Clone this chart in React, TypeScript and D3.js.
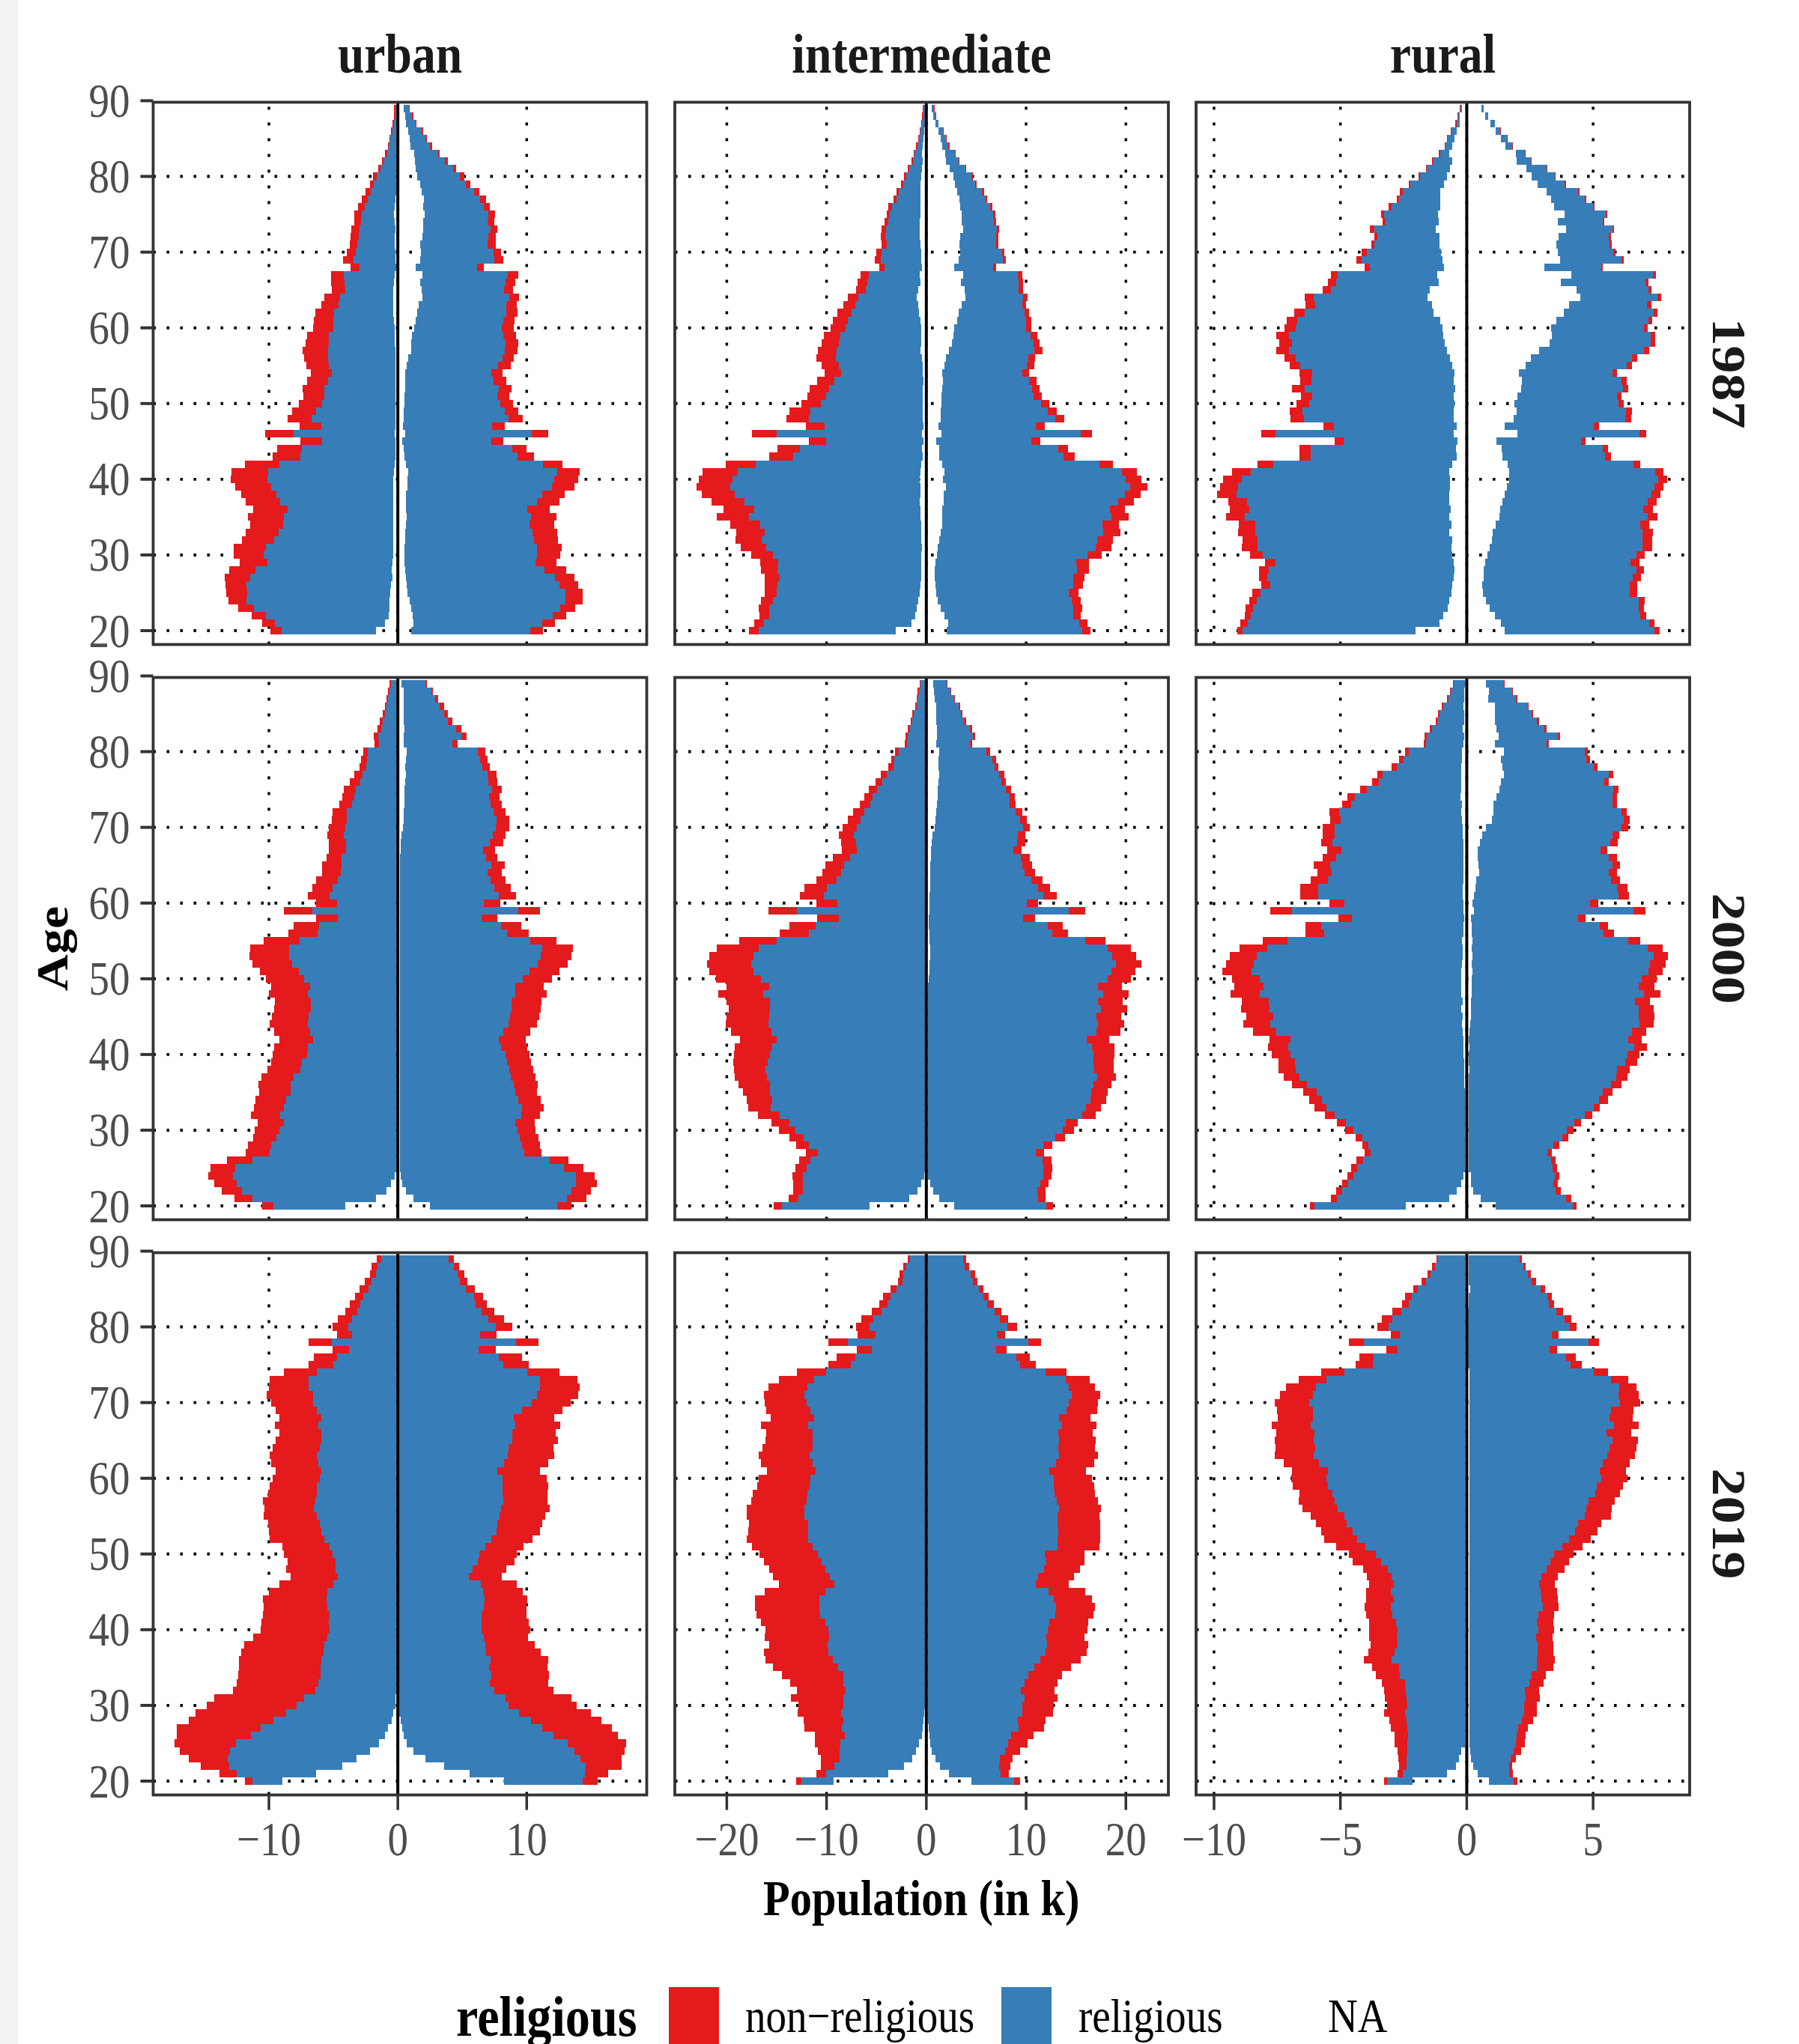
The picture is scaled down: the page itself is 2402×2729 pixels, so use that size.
import React from "react";
import * as d3 from "d3";

// ---------------- DATA (population in thousands) ----------------
// every series is indexed by age, from 89 (index 0) down to 20 (index 69)
const ages = d3.range(89, 19, -1);
const areaTypes = ["urban", "intermediate", "rural"];
const surveyYears = ["1987", "2000", "2019"];
const religionLevels = ["non\u2212religious", "religious", "NA"];
const religionColors = ["#E41A1C", "#377EB8", "none"];
const xTickValues = [[-10, 0, 10], [-20, -10, 0, 10, 20], [-10, -5, 0, 5]];
const xLimits = [[-18.98, 19.31], [-25.21, 24.26], [-10.71, 8.82]];
const yTickValues = [20, 30, 40, 50, 60, 70, 80, 90];
const yLimits = [18.17, 89.8];

// ---- urban 1987 ----
const urban1987_left_na = [
  0.1,0.1,0.1,0.1,0.1,0.1,0.1,0.1,0.1,0.1,
  0.1,0.1,0.18,0.23,0.28,0.23,0.18,0.23,0.23,0.18,
  0.18,0.13,0.23,0.28,0.33,0.38,0.33,0.33,0.28,0.23,
  0.23,0.23,0.18,0.18,0.18,0.18,0.18,0.18,0.18,0.18,
  0.18,0.18,0.18,0.23,0.18,0.18,0.18,0.23,0.28,0.33,
  0.33,0.33,0.33,0.33,0.33,0.33,0.33,0.33,0.33,0.38,
  0.43,0.49,0.43,0.54,0.59,0.64,0.66,0.72,1.0,1.71];
const urban1987_left_rel = [
  0.1,0.1,0.2,0.33,0.49,0.59,0.74,1.0,1.23,1.51,
  1.79,2.0,2.17,2.33,2.51,2.63,2.79,2.79,2.89,3.09,
  3.25,2.84,3.96,3.84,3.76,4.09,4.27,4.6,4.71,4.78,
  5.12,5.12,5.24,5.24,5.17,4.94,5.22,5.5,5.52,5.7,
  6.16,6.5,5.75,7.85,5.68,7.26,7.37,8.95,9.77,9.77,
  9.49,9.08,8.8,8.21,8.52,8.57,8.9,9.26,9.9,10.03,
  9.67,10.56,11.02,11.2,11.1,11.1,10.49,9.51,8.54,7.29];
const urban1987_left_non = [
  0.1,0.1,0.1,0.08,0.08,0.1,0.18,0.15,0.2,0.33,
  0.28,0.38,0.43,0.54,0.59,0.51,0.64,0.64,0.61,0.69,
  0.82,0.69,0.97,1.05,1.02,1.23,1.33,1.46,1.53,1.56,
  1.69,1.82,1.97,1.84,1.74,1.64,1.64,1.71,1.61,1.79,
  1.87,1.87,1.69,2.2,1.69,1.92,2.17,2.69,2.86,2.86,
  2.79,2.74,2.66,2.69,2.79,2.56,2.56,2.51,2.51,2.33,
  2.17,2.02,1.97,1.64,1.61,1.41,1.23,1.1,0.97,0.87];
const urban1987_right_na = [
  0.46,0.59,0.64,0.79,0.9,1.0,1.28,1.3,1.41,1.51,
  1.74,1.87,2.05,1.97,2.1,1.97,1.97,1.92,1.76,1.79,
  1.74,1.38,1.92,1.74,1.87,1.92,1.64,1.53,1.38,1.25,
  1.07,1.02,1.02,0.82,0.69,0.59,0.59,0.56,0.51,0.51,
  0.46,0.46,0.41,0.59,0.36,0.46,0.51,0.64,0.82,0.72,
  0.74,0.64,0.64,0.64,0.69,0.64,0.59,0.59,0.51,0.51,
  0.51,0.56,0.64,0.69,0.77,0.9,1.05,1.15,1.23,1.05];
const urban1987_right_rel = [
  0.38,0.51,0.72,1.07,1.23,1.51,1.84,2.35,2.86,3.3,
  3.53,4.07,4.35,4.68,4.91,4.99,5.24,5.12,5.19,5.63,
  5.75,4.78,6.62,6.6,6.39,6.75,6.78,6.91,6.78,6.83,
  7.14,7.31,7.29,7.29,7.11,6.65,6.85,7.29,7.19,7.42,
  7.85,8.13,6.91,9.82,6.88,8.4,8.8,10.64,11.53,11.43,
  11.23,10.56,10.18,9.41,9.67,9.59,9.87,9.97,10.31,10.31,
  10.18,10.82,11.56,11.87,12.23,12.1,11.56,10.87,9.97,9.23];
const urban1987_right_non = [
  0.08,0.1,0.1,0.08,0.1,0.15,0.15,0.26,0.23,0.33,
  0.36,0.41,0.46,0.49,0.51,0.51,0.51,0.56,0.64,0.61,
  0.69,0.51,0.79,0.77,0.66,0.72,0.82,0.87,0.87,0.9,
  0.95,1.0,0.97,0.87,0.95,0.87,0.95,0.95,0.95,1.02,
  1.02,1.1,0.97,1.25,0.92,1.1,1.23,1.48,1.74,1.84,
  1.71,1.74,1.71,1.71,1.94,1.89,1.89,1.84,1.89,1.76,
  1.61,1.71,1.48,1.43,1.33,1.33,1.18,1.02,0.97,0.97];

// ---- intermediate 1987 ----
const intermediate1987_left_na = [
  0.17,0.17,0.17,0.2,0.3,0.36,0.4,0.36,0.43,0.53,
  0.59,0.59,0.59,0.59,0.59,0.66,0.66,0.66,0.59,0.53,
  0.53,0.43,0.66,0.59,0.83,0.96,0.79,0.73,0.59,0.53,
  0.53,0.53,0.59,0.43,0.36,0.36,0.26,0.36,0.36,0.36,
  0.36,0.36,0.26,0.43,0.26,0.43,0.36,0.53,0.59,0.66,
  0.59,0.59,0.66,0.59,0.59,0.53,0.53,0.53,0.43,0.53,
  0.53,0.53,0.53,0.59,0.66,0.79,0.96,1.09,1.49,3.07];
const intermediate1987_left_rel = [
  0.1,0.13,0.26,0.36,0.43,0.56,0.76,0.99,1.29,1.52,
  1.72,2.15,2.41,2.84,3.1,3.17,3.4,3.43,3.37,3.96,
  4.03,3.76,5.08,5.31,5.25,5.84,6.34,6.77,7.26,7.59,
  8.09,8.22,8.42,8.61,8.38,8.15,8.94,9.37,9.67,10.2,
  11.25,11.39,9.9,14.55,9.77,12.24,12.97,16.57,18.35,18.75,
  19.04,18.61,17.56,16.7,17.16,16.11,15.68,15.94,15.64,14.82,
  14.29,14.39,14.16,14.32,14.32,14.55,14.79,14.65,14.75,13.7];
const intermediate1987_left_non = [
  0.07,0.1,0.1,0.1,0.1,0.1,0.1,0.13,0.13,0.2,
  0.23,0.23,0.26,0.36,0.3,0.36,0.43,0.46,0.53,0.53,
  0.59,0.53,0.83,0.96,0.96,1.06,1.19,1.42,1.49,1.45,
  1.65,1.75,1.85,1.95,1.75,1.65,1.78,1.95,1.88,1.95,
  2.15,2.24,1.88,2.48,1.78,2.24,2.41,2.97,3.47,3.43,
  3.43,3.33,3.3,3.07,3.23,3.0,2.84,2.64,2.51,2.24,
  1.82,1.65,1.49,1.32,1.19,1.22,1.02,1.02,0.99,0.99];
const intermediate1987_right_na = [
  0.56,0.69,0.92,1.22,1.45,1.58,1.88,1.98,2.34,2.71,
  2.87,3.1,3.33,3.4,3.53,3.53,3.7,3.4,3.33,3.4,
  3.23,2.81,3.7,3.47,3.86,3.93,3.53,3.23,3.1,2.81,
  2.71,2.57,2.28,1.98,1.82,1.58,1.68,1.62,1.52,1.52,
  1.45,1.45,1.22,1.52,0.99,1.29,1.29,1.58,1.82,1.68,
  1.98,1.75,1.75,1.58,1.58,1.58,1.45,1.29,1.16,1.06,
  0.92,0.86,0.86,0.92,0.99,1.16,1.45,1.82,2.21,2.05];
const intermediate1987_right_rel = [
  0.2,0.23,0.26,0.46,0.5,0.63,0.96,1.25,1.55,1.82,
  2.05,2.48,2.61,3.0,3.17,3.27,3.37,3.6,3.66,4.19,
  4.46,3.89,5.48,5.81,5.41,5.74,6.07,6.63,6.9,7.19,
  7.76,8.18,8.55,8.25,8.25,8.05,8.65,8.98,9.24,9.97,
  10.73,11.45,9.74,13.96,9.57,11.95,12.44,15.78,17.79,18.32,
  18.42,18.12,17.46,16.8,17.0,16.04,16.3,15.81,15.81,15.08,
  14.09,14.22,13.86,13.8,13.27,13.4,13.27,12.9,13.1,13.56];
const intermediate1987_right_non = [
  0.07,0.07,0.07,0.07,0.1,0.1,0.1,0.1,0.1,0.17,
  0.13,0.2,0.17,0.2,0.2,0.23,0.26,0.23,0.26,0.26,
  0.26,0.26,0.43,0.43,0.4,0.46,0.43,0.46,0.56,0.56,
  0.66,0.63,0.83,0.69,0.76,0.69,0.73,0.73,0.79,0.83,
  0.89,0.92,0.92,1.12,0.86,0.96,1.16,1.32,1.49,1.58,
  1.75,1.62,1.58,1.52,1.68,1.68,1.68,1.58,1.58,1.42,
  1.29,1.22,1.12,0.99,0.99,0.92,0.89,0.76,0.83,0.83];

// ---- rural 1987 ----
const rural1987_left_na = [
  0.18,0.29,0.27,0.39,0.48,0.57,0.69,0.57,0.66,0.78,
  0.9,1.04,1.04,1.04,1.13,1.11,1.23,1.07,1.07,1.03,
  0.96,0.9,1.16,1.11,1.47,1.55,1.37,1.32,1.04,0.95,
  0.93,0.86,0.78,0.66,0.57,0.48,0.51,0.46,0.51,0.48,
  0.53,0.51,0.39,0.53,0.37,0.42,0.39,0.57,0.69,0.66,
  0.66,0.69,0.69,0.63,0.69,0.6,0.69,0.57,0.6,0.57,
  0.51,0.48,0.53,0.57,0.6,0.69,0.74,0.93,1.07,2.02];
const rural1987_left_rel = [
  0.08,0.05,0.13,0.2,0.27,0.26,0.37,0.74,0.91,1.06,
  1.32,1.5,1.63,1.94,2.15,2.1,2.44,2.46,2.59,2.92,
  3.21,2.93,3.94,4.05,3.9,4.52,4.63,5.08,5.66,5.81,
  6.1,6.05,6.25,6.1,6.01,5.63,5.63,5.95,5.61,5.75,
  5.98,5.93,4.86,7.03,4.5,5.75,5.78,7.08,7.87,8.23,
  8.38,8.41,7.99,7.98,8.08,7.76,7.67,7.71,7.68,7.5,
  7.05,7.35,7.35,7.22,7.55,7.61,7.71,7.61,7.59,6.84];
const rural1987_left_non = [
  0.03,0.03,0.05,0.04,0.03,0.05,0.05,0.05,0.05,0.07,
  0.08,0.1,0.1,0.1,0.12,0.12,0.17,0.14,0.13,0.21,
  0.2,0.21,0.27,0.33,0.33,0.33,0.38,0.42,0.42,0.44,
  0.51,0.51,0.51,0.44,0.44,0.5,0.44,0.51,0.44,0.5,
  0.51,0.53,0.42,0.56,0.37,0.44,0.44,0.63,0.72,0.74,
  0.73,0.77,0.77,0.77,0.74,0.65,0.69,0.59,0.61,0.5,
  0.42,0.4,0.33,0.35,0.33,0.3,0.3,0.23,0.3,0.21];
const rural1987_right_na = [
  0.57,0.72,0.94,1.15,1.36,1.54,1.94,1.98,2.36,2.58,
  2.8,3.17,3.34,3.46,3.87,3.61,3.94,3.64,3.55,3.61,
  3.7,3.08,4.15,3.73,4.34,4.5,4.05,3.85,3.55,3.34,
  3.38,3.29,2.87,2.54,2.33,2.07,2.19,2.15,2.01,1.89,
  1.98,1.86,1.5,2.01,1.17,1.38,1.42,1.62,1.68,1.68,
  1.59,1.5,1.42,1.33,1.29,1.15,1.03,1.0,0.91,0.82,
  0.73,0.68,0.68,0.61,0.64,0.77,0.91,1.12,1.36,1.5];
const rural1987_right_rel = [
  0.09,0.12,0.17,0.18,0.22,0.26,0.35,0.55,0.8,0.9,
  1.07,1.23,1.33,1.53,1.62,1.77,1.83,1.98,2.09,2.18,
  2.41,2.23,3.21,3.34,2.84,3.04,3.09,3.55,3.65,3.68,
  3.9,3.99,4.15,4.0,4.0,3.7,3.94,4.04,3.94,4.12,
  4.32,4.41,3.53,4.82,3.35,4.0,4.05,4.98,5.78,5.89,
  5.84,5.81,5.74,5.66,5.87,5.72,5.92,5.95,6.04,5.89,
  5.75,6.04,5.89,5.84,5.81,6.04,5.89,5.75,5.87,5.93];
const rural1987_right_non = [
  0,0,0.01,0.03,0.03,0.03,0.04,0.04,0.04,0.04,
  0.07,0.07,0.05,0.07,0.07,0.07,0.05,0.09,0.1,0.1,
  0.1,0.08,0.13,0.12,0.13,0.16,0.16,0.16,0.14,0.13,
  0.18,0.18,0.21,0.21,0.21,0.17,0.21,0.2,0.18,0.21,
  0.25,0.23,0.21,0.27,0.18,0.21,0.23,0.27,0.33,0.35,
  0.35,0.35,0.37,0.38,0.39,0.35,0.42,0.39,0.39,0.33,
  0.35,0.3,0.33,0.29,0.29,0.23,0.21,0.23,0.21,0.21];

// ---- urban 2000 ----
const urban2000_left_na = [
  0.13,0.1,0.1,0.1,0.1,0.1,0.1,0.1,0.1,0.1,
  0.1,0.1,0.1,0.1,0.1,0.1,0.1,0.1,0.1,0.1,
  0.1,0.1,0.1,0.1,0.1,0.1,0.1,0.1,0.1,0.1,
  0.1,0.1,0.1,0.1,0.1,0.1,0.1,0.1,0.1,0.1,
  0.1,0.1,0.1,0.1,0.1,0.1,0.1,0.1,0.1,0.1,
  0.1,0.1,0.1,0.1,0.1,0.1,0.1,0.1,0.1,0.1,
  0.1,0.1,0.1,0.1,0.1,0.23,0.56,0.87,1.71,4.07];
const urban2000_left_rel = [
  0.43,0.54,0.66,0.77,0.92,1.1,1.2,1.43,1.38,2.22,
  2.28,2.35,2.63,2.84,3.17,3.3,3.48,3.84,3.84,4.0,
  4.07,3.94,3.94,4.25,4.25,4.35,4.58,4.94,5.22,4.63,
  6.55,4.55,6.0,6.14,7.54,8.32,8.32,8.1,7.6,7.2,
  6.68,6.86,6.63,6.63,6.8,6.91,6.68,6.5,6.86,6.96,
  7.32,7.49,7.97,8.2,8.2,8.56,8.74,9.03,8.74,9.08,
  9.3,9.72,9.85,11.18,12.5,12.56,11.92,11.23,9.57,5.58];
const urban2000_left_non = [
  0.08,0.1,0.1,0.13,0.15,0.2,0.28,0.33,0.31,0.38,
  0.49,0.54,0.66,0.79,0.92,0.92,0.97,1.15,1.2,1.28,
  1.33,1.33,1.33,1.2,1.51,1.41,1.64,1.61,1.69,1.59,
  2.17,1.69,1.97,2.23,2.79,3.02,3.12,3.07,3.02,2.92,
  3.02,3.02,2.79,2.89,2.89,2.92,2.84,2.61,2.61,2.63,
  2.38,2.51,2.51,2.51,2.43,2.38,2.3,2.25,2.02,1.92,
  1.82,1.82,1.84,1.97,1.92,1.92,1.74,1.56,1.38,0.87];
const urban2000_right_na = [
  0.31,0.43,0.43,0.43,0.46,0.43,0.51,0.46,0.46,0.66,
  0.64,0.59,0.64,0.59,0.54,0.54,0.51,0.46,0.46,0.41,
  0.31,0.23,0.23,0.18,0.18,0.18,0.18,0.18,0.18,0.18,
  0.18,0.18,0.18,0.18,0.18,0.18,0.18,0.18,0.18,0.18,
  0.18,0.18,0.18,0.18,0.18,0.18,0.18,0.18,0.18,0.18,
  0.18,0.18,0.18,0.18,0.18,0.18,0.18,0.18,0.18,0.18,
  0.18,0.18,0.18,0.18,0.18,0.23,0.36,0.64,1.23,2.51];
const urban2000_right_rel = [
  1.82,2.17,2.48,2.84,3.15,3.45,3.99,4.45,3.79,5.55,
  5.75,5.98,6.32,6.45,6.8,6.55,6.7,6.98,7.21,7.19,
  7.06,6.91,6.39,6.68,7.08,6.8,7.03,7.31,7.65,6.5,
  9.18,6.32,7.85,8.31,10.1,11.02,10.92,10.69,10.05,9.51,
  8.95,8.95,8.64,8.64,8.54,8.41,8.0,7.67,7.85,8.18,
  8.31,8.49,8.59,8.82,8.95,9.18,9.46,9.41,8.95,9.13,
  9.28,9.46,9.64,11.61,12.72,13.58,13.45,12.84,11.89,9.87];
const urban2000_right_non = [
  0.13,0.15,0.2,0.31,0.26,0.33,0.41,0.43,0.41,0.56,
  0.56,0.56,0.72,0.69,0.74,0.82,0.87,0.92,0.97,1.05,
  1.0,1.05,0.92,0.87,1.05,1.1,1.15,1.28,1.36,1.28,
  1.69,1.23,1.56,1.69,2.05,2.38,2.38,2.3,2.3,2.28,
  2.2,2.43,2.33,2.28,2.25,2.23,2.1,2.07,2.02,1.87,
  1.84,1.84,1.92,1.87,1.69,1.74,1.69,1.46,1.51,1.38,
  1.46,1.41,1.33,1.46,1.51,1.46,1.64,1.51,1.51,1.1];

// ---- intermediate 2000 ----
const intermediate2000_left_na = [
  0.17,0.17,0.17,0.17,0.17,0.17,0.17,0.17,0.17,0.17,
  0.17,0.17,0.17,0.17,0.17,0.17,0.17,0.17,0.17,0.17,
  0.17,0.17,0.17,0.17,0.17,0.17,0.17,0.17,0.17,0.17,
  0.17,0.17,0.17,0.17,0.17,0.17,0.17,0.17,0.17,0.17,
  0.17,0.17,0.17,0.17,0.17,0.17,0.17,0.17,0.17,0.17,
  0.17,0.17,0.17,0.17,0.17,0.17,0.17,0.17,0.17,0.17,
  0.17,0.17,0.17,0.17,0.17,0.23,0.5,0.89,1.72,5.71];
const intermediate2000_left_rel = [
  0.43,0.59,0.73,0.83,1.06,1.22,1.49,1.72,1.75,2.61,
  3.04,3.14,3.8,4.26,4.75,5.21,5.45,6.04,6.4,6.8,
  7.1,6.86,6.8,7.46,8.05,8.35,8.81,9.8,10.1,8.75,
  12.8,8.58,10.92,11.58,14.82,16.6,17.13,17.36,17.13,16.37,
  15.58,16.17,15.48,15.48,15.58,15.64,15.35,14.82,15.25,15.48,
  15.71,15.94,15.81,15.48,15.48,15.28,15.41,14.52,13.53,12.94,
  12.12,11.58,10.69,11.45,11.82,12.11,11.85,11.45,11.09,8.78];
const intermediate2000_left_non = [
  0.07,0.1,0.1,0.1,0.2,0.17,0.2,0.2,0.23,0.36,
  0.3,0.5,0.59,0.66,0.83,0.83,1.06,1.12,1.29,1.42,
  1.49,1.49,1.49,1.72,1.88,1.88,2.01,2.24,2.38,2.08,
  2.84,2.18,2.67,2.94,3.73,4.22,4.42,4.42,4.42,4.52,
  4.26,4.49,4.36,4.13,4.26,4.26,4.03,3.66,3.76,3.6,
  3.47,3.14,3.2,3.17,2.71,2.54,2.31,2.18,1.82,1.65,
  1.42,1.29,1.19,1.12,1.12,1.12,0.99,0.99,0.96,0.83];
const intermediate2000_right_na = [
  0.69,0.76,0.86,0.99,0.99,0.99,1.06,1.06,0.99,1.29,
  1.22,1.22,1.29,1.22,1.16,1.16,1.06,0.99,0.92,0.86,
  0.63,0.56,0.46,0.46,0.4,0.4,0.4,0.4,0.33,0.33,
  0.33,0.26,0.26,0.33,0.33,0.4,0.4,0.33,0.33,0.26,
  0.2,0.2,0.2,0.2,0.2,0.2,0.2,0.2,0.2,0.2,
  0.2,0.2,0.2,0.2,0.2,0.2,0.2,0.2,0.2,0.2,
  0.2,0.2,0.2,0.2,0.2,0.2,0.4,0.69,1.29,2.81];
const intermediate2000_right_rel = [
  1.32,1.62,1.91,2.28,2.48,2.77,3.27,3.6,3.37,4.72,
  5.38,5.61,6.04,6.3,6.83,7.19,7.29,7.95,8.48,8.84,
  8.55,8.55,8.25,9.01,9.24,9.44,10.13,10.79,11.39,9.74,
  13.93,9.44,11.91,12.28,15.58,17.76,18.22,18.65,18.22,17.89,
  17.0,17.52,17.0,17.29,16.83,17.0,16.83,15.87,16.4,16.53,
  16.53,16.63,16.93,16.53,16.34,16.24,15.84,15.41,13.76,13.47,
  12.71,11.52,10.76,11.45,11.52,11.52,11.02,10.43,9.9,9.21];
const intermediate2000_right_non = [
  0.1,0.1,0.13,0.13,0.17,0.2,0.26,0.23,0.2,0.4,
  0.4,0.4,0.46,0.46,0.5,0.53,0.59,0.66,0.66,0.66,
  0.76,0.83,0.83,0.89,0.96,1.06,1.12,1.22,1.35,1.12,
  1.65,1.19,1.49,1.58,2.05,2.34,2.41,2.57,2.41,2.34,
  2.41,2.54,2.48,2.64,2.48,2.61,2.41,2.24,2.24,2.11,
  2.05,1.95,1.88,1.82,1.65,1.58,1.45,1.35,1.22,1.12,
  0.99,0.89,0.83,0.89,0.89,0.83,0.83,0.83,0.76,0.69];

// ---- rural 2000 ----
const rural2000_left_na = [
  0.07,0.09,0.09,0.13,0.09,0.09,0.16,0.09,0.13,0.18,
  0.18,0.21,0.21,0.21,0.21,0.25,0.18,0.21,0.18,0.16,
  0.16,0.13,0.13,0.13,0.13,0.13,0.13,0.16,0.16,0.13,
  0.13,0.09,0.13,0.13,0.18,0.16,0.16,0.18,0.21,0.21,
  0.21,0.21,0.16,0.21,0.16,0.18,0.16,0.13,0.13,0.13,
  0.09,0.09,0.09,0.09,0.07,0.07,0.07,0.07,0.07,0.07,
  0.07,0.07,0.07,0.07,0.07,0.13,0.21,0.39,0.69,2.41];
const rural2000_left_rel = [
  0.44,0.54,0.64,0.8,0.98,1.07,1.21,1.49,1.47,2.1,
  2.31,2.56,3.12,3.26,3.74,4.17,4.39,4.84,4.8,5.07,
  5.07,5.18,4.82,5.03,5.29,5.22,5.36,5.72,5.72,4.71,
  6.78,4.45,5.62,5.5,6.91,7.73,8.15,8.24,8.3,7.98,
  7.82,7.98,7.67,7.61,7.5,7.61,7.38,6.85,6.92,6.85,
  6.7,6.68,6.52,6.23,5.87,5.66,5.48,5.16,4.71,4.42,
  4.05,3.82,3.73,4.03,4.26,4.35,4.49,4.54,4.45,3.63];
const rural2000_left_non = [
  0.03,0.04,0.05,0.07,0.07,0.07,0.09,0.09,0.09,0.16,
  0.18,0.21,0.21,0.27,0.26,0.3,0.35,0.38,0.42,0.47,
  0.47,0.44,0.56,0.53,0.65,0.56,0.7,0.7,0.7,0.59,
  0.86,0.53,0.63,0.74,0.98,1.1,1.07,1.1,1.15,1.1,
  1.16,1.15,1.07,1.11,1.07,1.04,0.91,0.82,0.81,0.73,
  0.65,0.68,0.63,0.59,0.53,0.51,0.48,0.38,0.37,0.33,
  0.27,0.23,0.25,0.27,0.25,0.23,0.23,0.23,0.23,0.17];
const rural2000_right_na = [
  0.77,0.89,0.85,1.1,1.1,1.1,1.17,1.26,1.1,1.47,
  1.36,1.42,1.47,1.36,1.3,1.17,1.06,1.06,1.0,0.77,
  0.61,0.52,0.44,0.44,0.47,0.5,0.38,0.33,0.29,0.23,
  0.29,0.17,0.2,0.2,0.23,0.2,0.23,0.2,0.23,0.2,
  0.2,0.2,0.17,0.17,0.17,0.14,0.12,0.08,0.12,0.08,
  0.08,0.12,0.08,0.08,0.08,0.08,0.08,0.08,0.08,0.08,
  0.08,0.08,0.08,0.08,0.08,0.17,0.17,0.26,0.56,1.15];
const rural2000_right_rel = [
  0.7,0.91,1.1,1.32,1.47,1.68,1.9,2.35,2.07,3.19,
  3.38,3.61,4.15,4.09,4.49,4.59,4.71,5.06,5.22,5.36,
  5.15,5.16,4.85,5.18,5.29,5.12,5.33,5.62,5.72,4.64,
  6.31,4.24,5.05,5.22,6.15,6.96,7.16,7.05,6.96,6.73,
  6.61,6.82,6.49,6.64,6.64,6.69,6.43,6.31,6.51,6.28,
  6.19,5.83,5.84,5.63,5.31,5.16,4.95,4.59,4.19,3.89,
  3.71,3.36,3.12,3.26,3.32,3.32,3.26,3.26,3.36,3.05];
const rural2000_right_non = [
  0.03,0.03,0.04,0.04,0.07,0.07,0.09,0.09,0.08,0.12,
  0.14,0.14,0.17,0.17,0.22,0.18,0.18,0.22,0.23,0.26,
  0.27,0.29,0.27,0.33,0.3,0.33,0.35,0.42,0.42,0.33,
  0.47,0.3,0.35,0.42,0.48,0.6,0.57,0.63,0.56,0.6,
  0.63,0.63,0.59,0.59,0.63,0.56,0.56,0.53,0.51,0.47,
  0.48,0.51,0.44,0.42,0.39,0.34,0.23,0.3,0.26,0.26,
  0.23,0.21,0.17,0.18,0.17,0.17,0.18,0.21,0.22,0.14];

// ---- urban 2019 ----
const urban2019_left_na = [
  0.1,0.1,0.1,0.1,0.1,0.1,0.1,0.1,0.1,0.1,
  0.1,0.1,0.1,0.1,0.1,0.1,0.1,0.1,0.1,0.1,
  0.1,0.1,0.1,0.1,0.1,0.1,0.1,0.1,0.1,0.1,
  0.1,0.1,0.1,0.1,0.1,0.1,0.1,0.1,0.1,0.1,
  0.1,0.1,0.1,0.1,0.1,0.1,0.1,0.1,0.1,0.1,
  0.1,0.1,0.1,0.1,0.1,0.1,0.1,0.1,0.18,0.18,
  0.36,0.46,0.77,1.0,1.46,2.15,3.2,4.3,6.32,8.95];
const urban2019_left_rel = [
  1.2,1.46,1.61,1.92,2.2,2.56,2.79,3.02,3.43,3.76,
  3.43,5.04,3.66,4.63,4.88,6.16,6.85,6.85,6.45,6.45,
  6.21,5.81,6.04,5.81,5.86,5.98,6.21,6.04,5.81,5.98,
  6.21,6.21,6.32,6.39,6.21,5.93,5.81,5.63,5.17,4.94,
  4.76,4.71,4.53,4.88,5.35,5.45,5.4,5.22,5.27,5.17,
  5.4,5.58,5.68,5.86,5.91,5.91,6.04,6.32,7.08,7.67,
  8.31,9.18,9.87,10.38,11.1,10.87,10.0,8.77,6.16,2.33];
const urban2019_left_non = [
  0.36,0.46,0.46,0.56,0.69,0.69,0.82,0.97,1.1,1.18,
  1.2,1.76,1.33,1.76,1.92,2.56,2.97,3.07,3.61,3.25,
  3.15,3.3,3.38,3.3,3.5,3.61,3.61,3.71,3.55,3.66,
  3.61,3.76,4.02,3.89,4.12,4.04,4.12,4.19,3.71,3.79,
  3.71,3.84,3.71,4.22,4.58,4.94,4.89,5.12,5.24,5.4,
  5.75,6.24,6.39,6.39,6.34,6.39,6.39,6.39,6.98,6.98,
  7.03,6.57,6.5,5.75,4.76,3.89,3.02,2.2,1.33,0.59];
const urban2019_right_na = [
  0.13,0.13,0.13,0.13,0.13,0.13,0.13,0.13,0.13,0.13,
  0.13,0.13,0.13,0.13,0.13,0.13,0.13,0.13,0.13,0.13,
  0.13,0.13,0.13,0.13,0.13,0.13,0.13,0.13,0.13,0.13,
  0.13,0.13,0.13,0.13,0.13,0.13,0.13,0.13,0.13,0.13,
  0.13,0.13,0.13,0.13,0.13,0.13,0.13,0.13,0.13,0.13,
  0.13,0.13,0.13,0.13,0.13,0.13,0.13,0.13,0.13,0.13,
  0.13,0.23,0.36,0.46,0.69,1.23,2.15,3.61,5.58,8.26];
const urban2019_right_rel = [
  3.79,4.19,4.48,4.68,5.14,5.78,5.88,6.37,6.91,7.49,
  6.27,9.05,6.14,7.72,8.06,9.92,10.92,10.92,10.69,10.28,
  9.51,8.87,9.0,8.77,8.77,8.47,8.41,8.13,7.6,8.0,
  8.0,8.0,8.06,7.9,7.77,7.6,7.54,7.13,6.68,6.21,
  6.09,5.68,5.4,6.32,6.5,6.62,6.55,6.37,6.37,6.37,
  6.55,6.65,6.73,7.08,6.96,7.14,7.01,7.37,8.24,8.47,
  9.28,10.1,10.84,11.64,12.5,12.48,12.02,10.95,8.95,6.09];
const urban2019_right_non = [
  0.41,0.43,0.56,0.56,0.72,0.72,0.9,0.97,1.23,1.28,
  1.28,1.74,1.36,1.79,1.97,2.51,2.89,3.07,3.17,2.99,
  3.15,3.15,3.48,3.35,3.53,3.5,3.61,3.43,3.32,3.43,
  3.55,3.48,3.43,3.76,3.53,3.48,3.38,3.2,2.97,2.89,
  2.84,2.61,2.56,2.79,3.07,3.3,3.32,3.5,3.66,3.79,
  3.43,3.84,4.25,4.48,4.5,4.48,4.55,4.6,5.12,5.29,
  5.58,5.47,5.42,4.99,4.5,3.89,3.2,2.79,1.79,1.18];

// ---- intermediate 2019 ----
const intermediate2019_left_na = [
  0.17,0.17,0.17,0.17,0.17,0.17,0.17,0.17,0.17,0.17,
  0.17,0.17,0.17,0.17,0.17,0.17,0.17,0.17,0.17,0.17,
  0.17,0.17,0.17,0.17,0.17,0.17,0.17,0.17,0.17,0.17,
  0.17,0.17,0.17,0.17,0.17,0.17,0.17,0.17,0.17,0.17,
  0.17,0.17,0.17,0.17,0.17,0.17,0.17,0.17,0.17,0.17,
  0.17,0.17,0.17,0.17,0.17,0.17,0.17,0.17,0.17,0.17,
  0.23,0.26,0.36,0.43,0.73,1.02,1.42,2.24,3.8,9.27];
const intermediate2019_left_rel = [
  1.45,1.85,2.15,2.24,2.81,3.4,3.73,4.32,5.15,5.51,
  4.92,7.69,5.28,6.93,7.39,9.87,11.06,11.75,12.05,11.82,
  11.45,11.06,11.65,11.22,11.22,11.22,11.52,11.22,10.92,11.45,
  11.52,11.75,11.82,12.05,12.05,11.65,11.65,11.65,11.22,10.69,
  10.3,9.93,9.47,9.04,9.93,10.53,10.53,10.46,9.93,9.64,
  9.57,9.7,9.64,9.17,8.65,8.15,8.15,7.92,8.15,8.15,
  8.28,8.05,8.09,7.72,7.88,7.66,7.26,6.96,6.24,3.23];
const intermediate2019_left_non = [
  0.26,0.33,0.36,0.43,0.59,0.76,0.83,0.96,1.19,1.35,
  1.78,1.95,1.52,1.88,2.24,2.94,3.53,3.89,4.03,4.19,
  4.42,4.36,4.75,4.65,4.72,5.02,5.08,5.18,4.85,5.15,
  5.25,5.48,5.54,5.78,5.78,5.94,6.07,6.17,6.07,5.84,
  5.78,5.64,5.71,5.54,6.07,6.47,6.47,6.37,6.47,6.3,
  6.44,5.87,6.44,6.77,6.53,6.14,5.31,4.85,5.28,4.49,
  4.36,3.96,3.76,3.0,2.54,2.18,1.88,1.35,0.96,0.53];
const intermediate2019_right_na = [
  0.2,0.2,0.2,0.2,0.2,0.2,0.2,0.2,0.2,0.2,
  0.2,0.2,0.2,0.2,0.2,0.2,0.2,0.2,0.2,0.2,
  0.2,0.2,0.2,0.2,0.2,0.2,0.2,0.2,0.2,0.2,
  0.2,0.2,0.2,0.2,0.2,0.2,0.2,0.2,0.2,0.2,
  0.2,0.2,0.2,0.2,0.2,0.2,0.2,0.2,0.2,0.2,
  0.2,0.2,0.2,0.2,0.2,0.2,0.2,0.2,0.2,0.2,
  0.2,0.2,0.26,0.33,0.4,0.56,0.92,1.39,2.28,4.52];
const intermediate2019_right_rel = [
  3.5,3.66,4.26,4.5,5.08,5.51,5.91,6.63,7.16,7.92,
  6.86,10.03,6.8,8.81,9.21,11.75,13.76,14.06,14.36,14.06,
  13.86,13.1,13.4,13.04,13.1,13.04,13.1,12.81,12.11,12.57,
  12.57,12.64,12.87,13.1,12.94,12.94,13.04,12.94,12.94,11.68,
  11.82,11.58,10.99,10.76,12.05,12.57,12.81,12.71,12.11,11.98,
  11.82,11.88,11.75,11.22,10.63,10.03,9.64,9.27,9.64,9.44,
  9.44,8.98,8.98,8.15,7.79,7.33,6.44,5.91,5.18,4.26];
const intermediate2019_right_non = [
  0.26,0.4,0.4,0.4,0.43,0.53,0.66,0.69,0.83,0.99,
  0.83,1.25,1.06,1.35,1.55,2.11,2.41,2.64,2.87,2.94,
  3.07,3.14,3.43,3.43,3.66,3.66,3.89,3.83,3.7,3.83,
  4.06,4.06,4.13,4.19,4.19,4.29,4.19,4.29,4.19,3.96,
  3.83,3.6,3.6,3.3,3.66,3.83,3.89,3.83,3.89,3.96,
  3.83,4.13,4.13,4.06,3.66,3.37,3.3,3.37,3.3,3.14,
  3.07,2.77,2.54,2.28,1.95,1.52,1.29,1.12,0.83,0.63];

// ---- rural 2019 ----
const rural2019_left_na = [
  0.07,0.07,0.07,0.07,0.07,0.07,0.07,0.07,0.07,0.07,
  0.07,0.07,0.07,0.07,0.07,0.07,0.07,0.07,0.07,0.07,
  0.07,0.07,0.07,0.07,0.07,0.07,0.07,0.07,0.07,0.07,
  0.07,0.07,0.07,0.07,0.07,0.07,0.07,0.07,0.07,0.07,
  0.07,0.07,0.07,0.07,0.07,0.07,0.07,0.07,0.07,0.07,
  0.07,0.07,0.07,0.07,0.07,0.07,0.07,0.07,0.07,0.07,
  0.07,0.07,0.07,0.07,0.07,0.21,0.3,0.42,0.78,2.15];
const rural2019_left_rel = [
  1.06,1.19,1.37,1.54,1.86,2.1,2.23,2.52,2.88,3.02,
  2.58,4.0,2.67,3.61,3.65,4.77,5.49,5.89,6.01,6.17,
  6.01,6.01,6.1,5.96,5.98,5.93,5.98,5.78,5.42,5.49,
  5.42,5.24,5.16,5.03,4.77,4.68,4.45,4.26,3.94,3.53,
  3.32,3.05,2.91,2.82,2.93,2.82,2.93,2.88,2.72,2.67,
  2.71,2.67,2.79,2.91,2.61,2.58,2.37,2.35,2.31,2.28,
  2.37,2.31,2.28,2.26,2.28,2.14,2.07,1.96,1.75,1.0];
const rural2019_left_non = [
  0.07,0.12,0.12,0.18,0.18,0.27,0.26,0.37,0.4,0.44,
  0.35,0.59,0.44,0.57,0.68,0.91,1.1,1.19,1.3,1.36,
  1.42,1.4,1.54,1.51,1.54,1.56,1.54,1.4,1.42,1.38,
  1.4,1.3,1.42,1.4,1.33,1.21,1.24,1.3,1.16,1.06,
  1.12,0.98,0.98,0.98,0.98,1.1,1.04,1.03,1.07,1.12,
  1.07,1.06,1.03,1.1,1.07,0.95,0.91,0.86,0.86,0.8,
  0.83,0.69,0.65,0.53,0.51,0.39,0.33,0.3,0.21,0.13];
const rural2019_right_na = [
  0.09,0.09,0.09,0.09,0.14,0.09,0.09,0.05,0.05,0.05,
  0.05,0.05,0.05,0.05,0.05,0.1,0.1,0.1,0.1,0.1,
  0.1,0.1,0.1,0.1,0.1,0.1,0.1,0.1,0.1,0.1,
  0.1,0.1,0.1,0.1,0.1,0.1,0.1,0.1,0.1,0.1,
  0.1,0.1,0.1,0.1,0.1,0.1,0.1,0.1,0.1,0.1,
  0.1,0.1,0.1,0.1,0.1,0.1,0.1,0.1,0.1,0.1,
  0.1,0.1,0.1,0.1,0.1,0.14,0.17,0.26,0.44,0.89];
const rural2019_right_rel = [
  2.01,2.15,2.33,2.48,2.78,3.1,3.16,3.49,3.82,4.03,
  3.33,4.77,3.23,3.89,4.06,4.93,5.61,5.93,5.91,5.96,
  5.61,5.54,5.72,5.42,5.66,5.54,5.46,5.28,5.16,5.21,
  5.05,4.99,4.73,4.64,4.56,4.3,4.19,3.96,3.68,3.35,
  3.21,3.06,2.86,2.76,2.82,2.86,2.91,2.74,2.67,2.74,
  2.65,2.71,2.71,2.67,2.67,2.46,2.37,2.2,2.22,2.16,
  2.16,2.09,1.93,1.88,1.84,1.72,1.58,1.42,1.24,0.98];
const rural2019_right_non = [
  0.09,0.09,0.12,0.16,0.18,0.17,0.21,0.27,0.27,0.26,
  0.26,0.42,0.29,0.38,0.44,0.56,0.68,0.7,0.8,0.81,
  0.89,0.93,0.98,0.98,1.02,1.07,1.1,1.07,1.03,1.04,
  1.03,0.98,1.03,1.0,1.04,0.91,0.89,0.86,0.81,0.77,
  0.74,0.7,0.65,0.63,0.65,0.65,0.63,0.61,0.65,0.61,
  0.65,0.63,0.63,0.72,0.65,0.56,0.57,0.56,0.56,0.51,
  0.51,0.44,0.39,0.35,0.37,0.29,0.2,0.12,0.14,0.12];

// table used for drawing: [year][area] -> left/right stacks
const side = (na: number[], rel: number[], non: number[]) => ({ na, rel, non });
const panelTable: Record<string, Record<string, any>> = {
  "1987": {
    urban: { left: side(urban1987_left_na, urban1987_left_rel, urban1987_left_non), right: side(urban1987_right_na, urban1987_right_rel, urban1987_right_non) },
    intermediate: { left: side(intermediate1987_left_na, intermediate1987_left_rel, intermediate1987_left_non), right: side(intermediate1987_right_na, intermediate1987_right_rel, intermediate1987_right_non) },
    rural: { left: side(rural1987_left_na, rural1987_left_rel, rural1987_left_non), right: side(rural1987_right_na, rural1987_right_rel, rural1987_right_non) },
  },
  "2000": {
    urban: { left: side(urban2000_left_na, urban2000_left_rel, urban2000_left_non), right: side(urban2000_right_na, urban2000_right_rel, urban2000_right_non) },
    intermediate: { left: side(intermediate2000_left_na, intermediate2000_left_rel, intermediate2000_left_non), right: side(intermediate2000_right_na, intermediate2000_right_rel, intermediate2000_right_non) },
    rural: { left: side(rural2000_left_na, rural2000_left_rel, rural2000_left_non), right: side(rural2000_right_na, rural2000_right_rel, rural2000_right_non) },
  },
  "2019": {
    urban: { left: side(urban2019_left_na, urban2019_left_rel, urban2019_left_non), right: side(urban2019_right_na, urban2019_right_rel, urban2019_right_non) },
    intermediate: { left: side(intermediate2019_left_na, intermediate2019_left_rel, intermediate2019_left_non), right: side(intermediate2019_right_na, intermediate2019_right_rel, intermediate2019_right_non) },
    rural: { left: side(rural2019_left_na, rural2019_left_rel, rural2019_left_non), right: side(rural2019_right_na, rural2019_right_rel, rural2019_right_non) },
  },
};

// ---------------- LAYOUT ----------------
const W = 2402;
const H = 2729;
const SX = 0.86; // glyphs of the reference are horizontally condensed
const FONT = "'Liberation Serif', 'Times New Roman', 'DejaVu Serif', serif";
const panelLeft = [204.5, 901, 1597];
const panelW = 659;
const panelTop = [136.5, 904.5, 1672.5];
const panelH = 724;

function Txt(props: any) {
  const { x, y, size, weight = "normal", anchor = "start", fill = "#000", rotate = 0, children } = props;
  const tr = `translate(${x},${y}) scale(${SX},1)` + (rotate ? ` rotate(${rotate})` : "");
  return (
    <text transform={tr} fontFamily={FONT} fontSize={size} fontWeight={weight} textAnchor={anchor} fill={fill}>
      {children}
    </text>
  );
}

const fmt = (v: number) => (v < 0 ? "\u2212" + Math.abs(v) : String(v));

function Panel({ r, c }: { r: number; c: number }) {
  const year = surveyYears[r];
  const area = areaTypes[c];
  const d = panelTable[year][area];
  const x0 = panelLeft[c];
  const y0 = panelTop[r];
  const x = d3.scaleLinear().domain(xLimits[c]).range([x0, x0 + panelW]);
  const y = d3.scaleLinear().domain(yLimits).range([y0 + panelH, y0]);

  const bars: any[] = [];
  (["left", "right"] as const).forEach((s) => {
    const sign = s === "left" ? -1 : 1;
    const st = d[s];
    ages.forEach((age, i) => {
      const a0 = st.na[i];
      const a1 = a0 + st.rel[i];
      const a2 = a1 + st.non[i];
      const yt = y(age + 0.5);
      const yb = y(age - 0.5);
      const segs = [
        { from: a0, to: a1, fill: religionColors[1] },
        { from: a1, to: a2, fill: religionColors[0] },
      ];
      segs.forEach((g, k) => {
        const xa = x(sign * g.from);
        const xb = x(sign * g.to);
        bars.push(
          <rect key={`${s}-${age}-${k}`} x={Math.min(xa, xb)} y={yt} width={Math.abs(xb - xa)} height={yb - yt} fill={g.fill} />
        );
      });
    });
  });

  return (
    <g>
      <rect x={x0} y={y0} width={panelW} height={panelH} fill="#fff" />
      {/* dotted major grid */}
      {yTickValues.filter((t) => t < 90).map((t) => (
        <line key={"gy" + t} x1={x0} x2={x0 + panelW} y1={y(t)} y2={y(t)} stroke="#000" strokeWidth={3.9} strokeDasharray="3.6 14.4" />
      ))}
      {xTickValues[c].map((t) => (
        <line key={"gx" + t} x1={x(t)} x2={x(t)} y1={y0 + panelH} y2={y0} stroke="#000" strokeWidth={3.5} strokeDasharray="4 17" />
      ))}
      <g shapeRendering="crispEdges">{bars}</g>
      <line x1={x(0)} x2={x(0)} y1={y0} y2={y0 + panelH} stroke="#000" strokeWidth={4} />
      <rect x={x0} y={y0} width={panelW} height={panelH} fill="none" stroke="#333333" strokeWidth={3.8} />
      {/* y axis ticks & labels */}
      {c === 0 &&
        yTickValues.map((t) => (
          <g key={"yt" + t}>
            <line x1={x0 - 17} x2={x0} y1={y(t)} y2={y(t)} stroke="#333333" strokeWidth={4} />
            <Txt x={x0 - 31} y={y(t) + 21.5} size={64} anchor="end" fill="#4D4D4D">{t}</Txt>
          </g>
        ))}
      {/* x axis ticks & labels on bottom row */}
      {r === 2 &&
        xTickValues[c].map((t) => (
          <g key={"xt" + t}>
            <line x1={x(t)} x2={x(t)} y1={y0 + panelH} y2={y0 + panelH + 20} stroke="#333333" strokeWidth={3.5} />
            <Txt x={x(t)} y={2477} size={64} anchor="middle" fill="#4D4D4D">{fmt(t)}</Txt>
          </g>
        ))}
    </g>
  );
}

export default function App() {
  const panels: any[] = [];
  surveyYears.forEach((_, r) => areaTypes.forEach((__, c) => panels.push(<Panel key={`${r}-${c}`} r={r} c={c} />)));
  const plotMidX = (panelLeft[0] + panelLeft[2] + panelW) / 2;
  const plotMidY = (panelTop[0] + panelTop[2] + panelH) / 2;
  const legendKeys = [
    { label: religionLevels[0], keyX: 893, textX: 995, fill: religionColors[0] },
    { label: religionLevels[1], keyX: 1337, textX: 1440, fill: religionColors[1] },
    { label: religionLevels[2], keyX: 1671, textX: 1773, fill: religionColors[2] },
  ];
  return (
    <svg width={W} height={H} viewBox={`0 0 ${W} ${H}`} style={{ position: "absolute", left: 0, top: 0, display: "block" }} xmlns="http://www.w3.org/2000/svg">
      <rect x={0} y={0} width={W} height={H} fill="#ffffff" />
      <rect x={0} y={0} width={24} height={H} fill="#F2F2F2" />
      {panels}
      {/* column strips */}
      {areaTypes.map((a, c) => (
        <Txt key={a} x={panelLeft[c] + panelW / 2} y={97} size={74} weight="bold" anchor="middle" fill="#1A1A1A">{a}</Txt>
      ))}
      {/* row strips */}
      {surveyYears.map((yr, r) => (
        <Txt key={yr} x={2287} y={panelTop[r] + panelH / 2} size={74} weight="bold" anchor="middle" fill="#1A1A1A" rotate={90}>{yr}</Txt>
      ))}
      {/* axis titles */}
      <Txt x={plotMidX} y={2557} size={68} weight="bold" anchor="middle">Population (in k)</Txt>
      <Txt x={90} y={plotMidY} size={68} weight="bold" anchor="middle" rotate={-90}>Age</Txt>
      {/* legend */}
      <Txt x={609} y={2718} size={77} weight="bold">religious</Txt>
      {legendKeys.map((k) => (
        <g key={k.label}>
          {k.fill !== "none" && <rect x={k.keyX} y={2653} width={67} height={95} fill={k.fill} />}
          <Txt x={k.textX} y={2713} size={64}>{k.label}</Txt>
        </g>
      ))}
    </svg>
  );
}
